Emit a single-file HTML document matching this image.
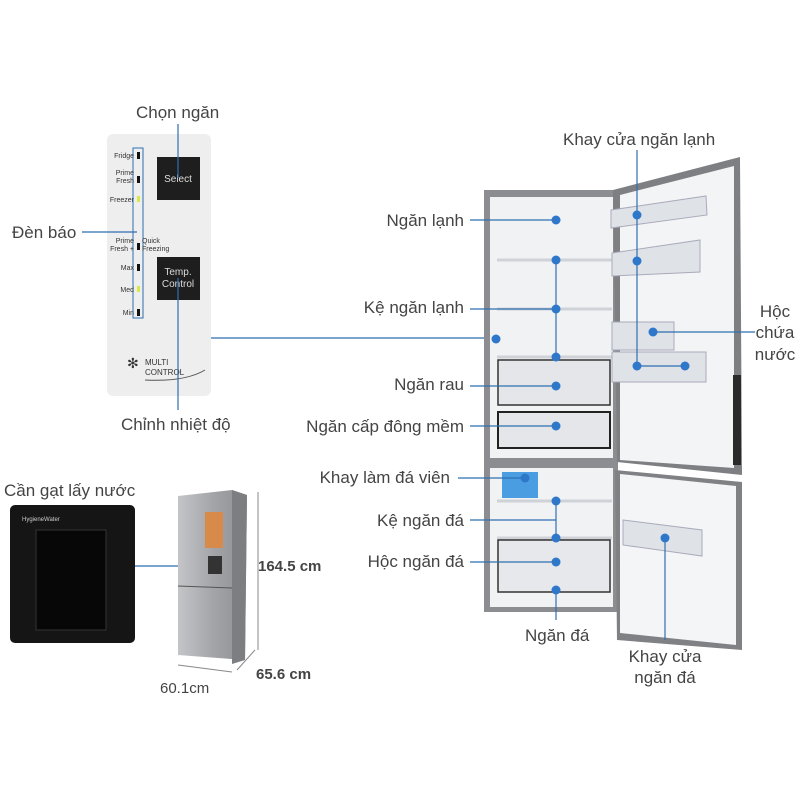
<!DOCTYPE html>
<html><head><meta charset="utf-8"><style>
body{margin:0;background:#fff;}
svg{display:block;font-family:"Liberation Sans",sans-serif;}
</style></head><body>
<svg width="800" height="800" viewBox="0 0 800 800">
<defs>
<linearGradient id="sv" x1="0" x2="1"><stop offset="0" stop-color="#c4c5c8"/><stop offset="0.5" stop-color="#a4a5a9"/><stop offset="1" stop-color="#8d8e92"/></linearGradient>
</defs>
<!-- control panel -->
<rect x="107" y="134" width="104" height="262" rx="6" fill="#eeeeef"/>
<rect x="133" y="148" width="10" height="170" fill="none" stroke="#2f6fb0" stroke-width="1"/>
<g font-size="7" fill="#333" text-anchor="end">
<text x="134" y="158">Fridge</text><text x="134" y="175">Prime</text><text x="134" y="183">Fresh</text>
<text x="134" y="202">Freezer</text><text x="134" y="243">Prime</text><text x="134" y="251">Fresh +</text>
<text x="134" y="270">Max</text><text x="134" y="292">Med</text><text x="134" y="315">Min</text></g>
<g fill="#111"><rect x="137" y="152" width="3" height="7"/><rect x="137" y="176" width="3" height="7"/><rect x="137" y="243" width="3" height="7"/><rect x="137" y="264" width="3" height="7"/><rect x="137" y="309" width="3" height="7"/></g>
<rect x="137" y="196" width="3" height="6" fill="#d9e84a"/><rect x="137" y="286" width="3" height="6" fill="#d9e84a"/>
<text x="142" y="243" font-size="7" fill="#333">Quick</text><text x="142" y="251" font-size="7" fill="#333">Freezing</text>
<rect x="157" y="157" width="43" height="43" fill="#1e1e1e"/><text x="178" y="182" font-size="10" fill="#ddd" text-anchor="middle">Select</text>
<rect x="157" y="257" width="43" height="43" fill="#1e1e1e"/><text x="178" y="275" font-size="10" fill="#ddd" text-anchor="middle">Temp.</text><text x="178" y="287" font-size="10" fill="#ddd" text-anchor="middle">Control</text>
<text x="127" y="368" font-size="14" fill="#333">✻</text>
<text x="145" y="365" font-size="8" fill="#333">MULTI</text><text x="145" y="375" font-size="8" fill="#333">CONTROL</text>
<path d="M145 380 Q185 382 205 370" stroke="#555" fill="none"/>
<g font-size="17" fill="#444">
<text x="136" y="118">Chọn ngăn</text>
<text x="12" y="238">Đèn báo</text>
<text x="121" y="430">Chỉnh nhiệt độ</text>
<text x="4" y="496">Cần gạt lấy nước</text>
</g>
<g stroke="#2f6fb0" stroke-width="1.2" fill="none">
<line x1="178" y1="124" x2="178" y2="178"/>
<line x1="82" y1="232" x2="137" y2="232"/>
<line x1="178" y1="278" x2="178" y2="410"/>
<line x1="211" y1="338" x2="496" y2="338"/>
<line x1="90" y1="566" x2="230" y2="566"/>
</g>
<rect x="10" y="505" width="125" height="138" rx="5" fill="#151515"/>
<rect x="36" y="530" width="70" height="100" fill="#070707" stroke="#333"/>
<text x="22" y="521" font-size="6" fill="#ccc">HygieneWater</text>
<polygon points="178,496 232,490 247,495 245,660 178,655" fill="url(#sv)"/>
<polygon points="232,490 247,495 245,660 232,664" fill="#7d7e82"/>
<line x1="178" y1="586" x2="232" y2="588" stroke="#555"/>
<rect x="205" y="512" width="18" height="36" fill="#d88a4a"/>
<rect x="208" y="556" width="14" height="18" fill="#333"/>
<g stroke="#888" fill="none"><line x1="258" y1="492" x2="258" y2="650"/><line x1="178" y1="665" x2="232" y2="672"/><line x1="237" y1="670" x2="255" y2="650"/></g>
<g fill="#444"><text x="258" y="571" font-size="15" font-weight="bold">164.5 cm</text><text x="256" y="679" font-size="15" font-weight="bold">65.6 cm</text><text x="160" y="693" font-size="15">60.1cm</text></g>
<rect x="484" y="190" width="134" height="422" fill="#8c8d90"/>
<rect x="490" y="197" width="123" height="410" fill="#f1f2f4"/>
<rect x="490" y="458" width="123" height="10" fill="#8c8d90"/>
<g stroke="#cfd3d8" stroke-width="3"><line x1="497" y1="260" x2="612" y2="260"/><line x1="497" y1="309" x2="612" y2="309"/><line x1="497" y1="357" x2="612" y2="357"/><line x1="497" y1="501" x2="612" y2="501"/><line x1="497" y1="538" x2="612" y2="538"/></g>
<rect x="498" y="360" width="112" height="45" fill="#e4e6ea" stroke="#333" stroke-width="1.5"/>
<rect x="498" y="412" width="112" height="36" fill="#e4e6ea" stroke="#222" stroke-width="2"/>
<rect x="498" y="540" width="112" height="52" fill="#e6e8ec" stroke="#333" stroke-width="1.5"/>
<rect x="502" y="472" width="36" height="26" fill="#4a9de0"/>
<polygon points="613,190 740,157 742,475 617,462" fill="#7e7f83"/>
<polygon points="620,195 734,166 734,468 620,460" fill="#f3f4f6"/>
<rect x="733" y="375" width="8" height="90" fill="#2a2a2a"/>
<polygon points="615,470 742,482 742,650 617,640" fill="#808185"/>
<polygon points="620,474 736,486 736,645 620,633" fill="#f4f5f7"/>
<g fill="#dfe3e8" stroke="#aab"><polygon points="611,210 706,196 707,215 611,228"/><polygon points="612,253 700,240 700,272 612,276"/><rect x="612" y="352" width="94" height="30"/><rect x="612" y="322" width="62" height="28"/><polygon points="623,520 702,530 702,556 623,545"/></g>
<g stroke="#2f6fb0" stroke-width="1.2" fill="none">
<line x1="470" y1="220" x2="556" y2="220"/><line x1="470" y1="309" x2="556" y2="309"/>
<line x1="556" y1="260" x2="556" y2="357"/><line x1="470" y1="386" x2="556" y2="386"/>
<line x1="470" y1="426" x2="556" y2="426"/><line x1="458" y1="478" x2="525" y2="478"/>
<line x1="470" y1="520" x2="556" y2="520"/><line x1="556" y1="501" x2="556" y2="538"/>
<line x1="470" y1="562" x2="556" y2="562"/><line x1="556" y1="590" x2="556" y2="620"/>
<line x1="637" y1="150" x2="637" y2="366"/><line x1="637" y1="366" x2="685" y2="366"/>
<line x1="653" y1="332" x2="755" y2="332"/><line x1="665" y1="538" x2="665" y2="640"/>
</g>
<g fill="#2f78c9">
<circle cx="556" cy="220" r="4.5"/><circle cx="556" cy="260" r="4.5"/><circle cx="556" cy="309" r="4.5"/><circle cx="556" cy="357" r="4.5"/>
<circle cx="496" cy="339" r="4.5"/><circle cx="556" cy="386" r="4.5"/><circle cx="556" cy="426" r="4.5"/><circle cx="525" cy="478" r="4.5"/>
<circle cx="556" cy="501" r="4.5"/><circle cx="556" cy="538" r="4.5"/><circle cx="556" cy="562" r="4.5"/><circle cx="556" cy="590" r="4.5"/>
<circle cx="637" cy="215" r="4.5"/><circle cx="637" cy="261" r="4.5"/><circle cx="637" cy="366" r="4.5"/><circle cx="685" cy="366" r="4.5"/>
<circle cx="653" cy="332" r="4.5"/><circle cx="665" cy="538" r="4.5"/>
</g>
<g font-size="17" fill="#444">
<text x="563" y="145">Khay cửa ngăn lạnh</text>
<text x="464" y="226" text-anchor="end">Ngăn lạnh</text>
<text x="464" y="313" text-anchor="end">Kệ ngăn lạnh</text>
<text x="464" y="390" text-anchor="end">Ngăn rau</text>
<text x="464" y="432" text-anchor="end">Ngăn cấp đông mềm</text>
<text x="450" y="483" text-anchor="end">Khay làm đá viên</text>
<text x="464" y="526" text-anchor="end">Kệ ngăn đá</text>
<text x="464" y="567" text-anchor="end">Hộc ngăn đá</text>
<text x="525" y="641">Ngăn đá</text>
<text x="775" y="317" text-anchor="middle">Hộc</text><text x="775" y="338" text-anchor="middle">chứa</text><text x="775" y="360" text-anchor="middle">nước</text>
<text x="665" y="662" text-anchor="middle">Khay cửa</text><text x="665" y="683" text-anchor="middle">ngăn đá</text>
</g>
</svg>
</body></html>
